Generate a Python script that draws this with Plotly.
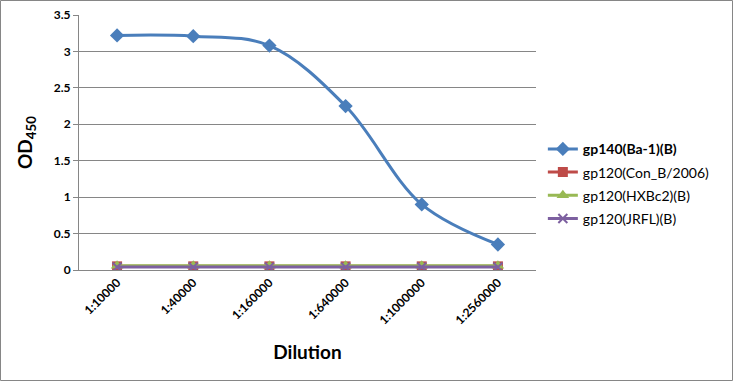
import plotly.graph_objects as go

categories = ["1:10000", "1:40000", "1:160000", "1:640000", "1:1000000", "1:2560000"]
gp140_ba1 = [3.22, 3.21, 3.08, 2.25, 0.90, 0.35]
gp120_conb = [0.05, 0.05, 0.05, 0.05, 0.05, 0.05]
gp120_hxbc2 = [0.06, 0.06, 0.06, 0.06, 0.06, 0.06]
gp120_jrfl = [0.04, 0.04, 0.04, 0.04, 0.04, 0.04]

series = [
    ("<b>gp140(Ba-1)(B)</b>", gp140_ba1, "#4A7EBB", "diamond", "spline", 11),
    ("gp120(Con_B/2006)", gp120_conb, "#BE4B48", "square", "linear", 10),
    ("gp120(HXBc2)(B)", gp120_hxbc2, "#98B954", "triangle-up", "linear", 11),
    ("gp120(JRFL)(B)", gp120_jrfl, "#7D60A0", "x-thin", "linear", 9),
]

fig = go.Figure()
for i, (name, vals, color, sym, shape, ms) in enumerate(series):
    fig.add_trace(go.Scatter(
        x=categories, y=vals, name=name, mode="lines+markers",
        legendgroup=f"g{i}",
        line=dict(color=color, width=3, shape=shape, smoothing=1.0),
        marker=dict(symbol=sym, size=ms, color=color,
                    line=dict(color=color, width=2 if sym == "x-thin" else 0)),
    ))

L, R, T, B = 79, 198, 15, 112
W, H = 734, 382
pw, ph = W - L - R, H - T - B

fig.update_layout(
    width=W, height=H,
    margin=dict(l=L, r=R, t=T, b=B, autoexpand=False),
    paper_bgcolor="white", plot_bgcolor="white",
    font=dict(family="Lato, Open Sans, sans-serif", color="black"),
    showlegend=True,
    legend=dict(x=1.015, y=0.338, xanchor="left", yanchor="middle",
                font=dict(size=14, color="black"), tracegroupgap=2,
                itemwidth=30),
    xaxis=dict(
        type="category", showgrid=False, showline=True, linecolor="#868686",
        linewidth=1, ticks="", tickangle=-45, automargin=False,
        tickfont=dict(size=12, family="Lato, sans-serif", color="black", weight="bold"),
        title=dict(text="<b>Dilution</b>", font=dict(size=19), standoff=19),
        range=[-0.5, 5.5],
    ),
    yaxis=dict(
        range=[0, 3.5], dtick=0.5, showgrid=True, gridcolor="#868686",
        gridwidth=1, showline=True, linecolor="#868686", linewidth=1,
        ticks="outside", ticklen=5, tickcolor="#868686", automargin=False,
        tickfont=dict(size=12, color="black", weight="bold"),
        tickformat="~g", zeroline=False,
        title=dict(text="<b>OD<sub>450</sub></b>", font=dict(size=19), standoff=16),
    ),
    shapes=[dict(
        type="rect", xref="paper", yref="paper",
        x0=(-L + 0.5) / pw, x1=1 + (R - 1.5) / pw,
        y0=(-B + 1.5) / ph, y1=1 + (T - 0.5) / ph,
        line=dict(color="#868686", width=1), fillcolor="rgba(0,0,0,0)",
        layer="below",
    )],
)

fig.write_html(
    "out.html",
    config={"displayModeBar": False},
    post_script="document.body.style.margin='0';document.body.style.padding='0';",
)
